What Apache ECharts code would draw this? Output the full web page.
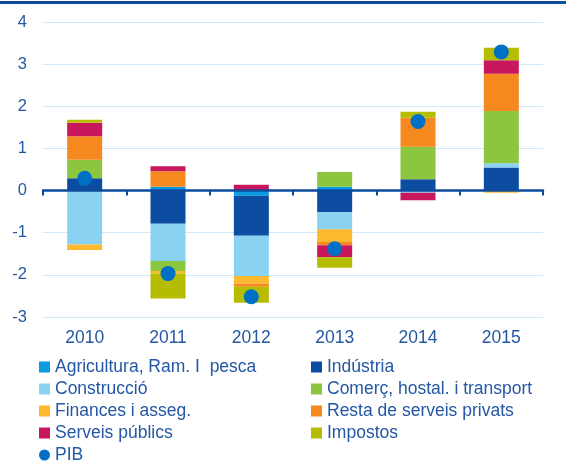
<!DOCTYPE html>
<html>
<head>
<meta charset="utf-8">
<script src="https://cdn.jsdelivr.net/npm/echarts@6/dist/echarts.min.js"></script>
<style>
  html, body { margin: 0; padding: 0; background: #fff; }
  #chart { width: 566px; height: 464px; }
</style>
</head>
<body>
<div id="chart"></div>
<script>
// anys
var years = ['2010', '2011', '2012', '2013', '2014', '2015'];
// contribucions per sector (punts percentuals)
var agricultura = [0, 0.09, -0.12, 0.09, 0, 0];
var industria = [0.29, -0.79, -0.95, -0.51, 0.27, 0.55];
var construccio = [-1.28, -0.88, -0.96, -0.41, -0.05, 0.10];
var comerc = [0.44, -0.24, 0, 0.35, 0.77, 1.24];
var finances = [-0.13, -0.06, -0.18, -0.30, 0, -0.05];
var resta = [0.56, 0.37, -0.07, -0.08, 0.69, 0.88];
var serveis = [0.32, 0.12, 0.14, -0.28, -0.18, 0.32];
var impostos = [0.07, -0.59, -0.38, -0.25, 0.14, 0.30];
// PIB
var pib = [0.29, -1.97, -2.52, -1.38, 1.64, 3.29];

var textBlue = '#2457a4';
var axisBlue = '#0d4c9c';

var sectors = [
  { name: 'Agricultura, Ram. I  pesca', data: agricultura, color: '#0a9be0' },
  { name: 'Indústria', data: industria, color: '#0c4da2' },
  { name: 'Construcció', data: construccio, color: '#8ad2f2' },
  { name: 'Comerç, hostal. i transport', data: comerc, color: '#8cc63e' },
  { name: 'Finances i asseg.', data: finances, color: '#fdb92f' },
  { name: 'Resta de serveis privats', data: resta, color: '#f5891f' },
  { name: 'Serveis públics', data: serveis, color: '#c8175c' },
  { name: 'Impostos', data: impostos, color: '#b6bd00' }
];

var series = sectors.map(function (s) {
  return {
    name: s.name,
    type: 'bar',
    stack: 'total',
    barWidth: 35,
    data: s.data,
    itemStyle: { color: s.color },
    xAxisIndex: 0
  };
});
series.push({
  name: 'PIB',
  type: 'scatter',
  data: pib,
  symbolSize: 15,
  itemStyle: { color: '#0070c4', opacity: 1 },
  xAxisIndex: 0,
  z: 5
});

var legendText = { color: textBlue, fontSize: 17.5, fontFamily: 'Liberation Sans, Arial, sans-serif', lineHeight: 18 };

var chart = echarts.init(document.getElementById('chart'), null, { renderer: 'canvas' });
chart.setOption({
  animation: false,
  textStyle: { fontFamily: 'Liberation Sans, Arial, sans-serif' },
  graphic: [{
    type: 'rect',
    shape: { x: 0, y: 1, width: 566, height: 3 },
    style: { fill: axisBlue }
  }],
  grid: { left: 43, right: 23, top: 22, bottom: 147 },
  legend: [{
    orient: 'vertical',
    left: 39,
    top: 358,
    padding: 0,
    itemWidth: 11,
    itemHeight: 11,
    itemGap: 4,
    textStyle: legendText,
    selectedMode: false,
    data: [
      { name: 'Agricultura, Ram. I  pesca', icon: 'rect' },
      { name: 'Construcció', icon: 'rect' },
      { name: 'Finances i asseg.', icon: 'rect' },
      { name: 'Serveis públics', icon: 'rect' },
      { name: 'PIB', icon: 'circle' }
    ]
  }, {
    orient: 'vertical',
    left: 311,
    top: 358,
    padding: 0,
    itemWidth: 11,
    itemHeight: 11,
    itemGap: 4,
    textStyle: legendText,
    selectedMode: false,
    data: [
      { name: 'Indústria', icon: 'rect' },
      { name: 'Comerç, hostal. i transport', icon: 'rect' },
      { name: 'Resta de serveis privats', icon: 'rect' },
      { name: 'Impostos', icon: 'rect' }
    ]
  }],
  xAxis: [{
    type: 'category',
    data: years,
    position: 'bottom',
    axisLine: { show: false, onZero: false },
    axisTick: { show: false },
    axisLabel: { color: textBlue, fontSize: 17.5, margin: 12 }
  }, {
    type: 'category',
    data: years,
    position: 'top',
    z: 4,
    axisLine: { show: true, onZero: true, lineStyle: { color: axisBlue, width: 2.5 } },
    axisTick: { show: true, inside: true, length: 5, lineStyle: { color: axisBlue, width: 2 } },
    axisLabel: { show: false }
  }],
  yAxis: {
    type: 'value',
    min: -3,
    max: 4,
    interval: 1,
    axisLine: { show: false },
    axisTick: { show: false },
    axisLabel: { color: textBlue, fontSize: 16.5, margin: 16 },
    splitLine: { lineStyle: { color: '#cfe9f8', width: 1 } }
  },
  series: series
});
</script>
</body>
</html>
